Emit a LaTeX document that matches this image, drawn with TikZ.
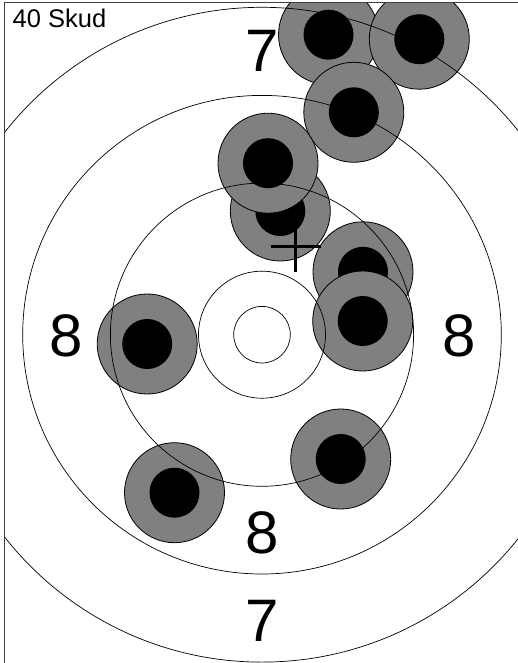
\documentclass[tikz,border=0pt]{standalone}
\usepackage{fontspec}
\setmainfont{Liberation Sans}
\definecolor{shotgray}{HTML}{808080}
\begin{document}
\begin{tikzpicture}[x=1pt,y=-1pt,
  shotouter/.style={circle,draw=black,line width=0.8pt,fill=shotgray,minimum size=100pt,inner sep=0pt},
  shotinner/.style={circle,fill=black,minimum size=50pt,inner sep=0pt},
  ring/.style={draw=black,line width=0.7pt},
  scorelabel/.style={anchor=base,inner sep=0pt,font=\fontsize{60}{60}\selectfont},
  titlelabel/.style={anchor=base west,inner sep=0pt,font=\fontsize{25.5}{25.5}\selectfont},
  frameline/.style={draw=black!75,line width=1pt},
  aimcross/.style={draw=black,line width=2.4pt}]
\useasboundingbox (0,0) rectangle (518,663);
\fill[white] (0,0) rectangle (518,663);
\coordinate (c) at (262,334.7);
\begin{scope}
\clip (4.5,3) rectangle (518,663);
% shots
\foreach \n/\px/\py in {1/328.5/34.7, 2/419.3/39.2, 3/353.8/112.3, 5/280.3/211, 4/268/163.2,
  6/363/271.8, 7/362.7/321, 8/147.2/344, 9/340.7/459, 10/174.5/492.7}{
  \node[shotouter] (s\n) at (\px,\py) {};
  \node[shotinner] (s\n c) at (s\n) {};
}
% rings
\draw[ring] (c) circle[radius=28.3pt];
\draw[ring] (c) circle[radius=63.5pt];
\draw[ring] (c) circle[radius=151.6pt];
\draw[ring] (c) circle[radius=239.3pt];
\draw[ring] (c) circle[radius=327.4pt];
\end{scope}
% labels
\node[scorelabel] (l7t) at (262,72) {7};
\node[scorelabel] (l8l) at (66,356.8) {8};
\node[scorelabel] (l8r) at (459,356.8) {8};
\node[scorelabel] (l8b) at (262,553) {8};
\node[scorelabel] (l7b) at (262,641) {7};
\node[titlelabel] (title) at (12.5,27.3) {40 Skud};
% aim cross
\coordinate (xc) at (295.5,246.5);
\draw[aimcross] ([xshift=-25pt]xc) -- ([xshift=25pt]xc);
\draw[aimcross] ([yshift=25pt]xc) -- ([yshift=-25pt]xc);
% frame
\draw[frameline] (4,2.8) -- (518,2.8);
\draw[frameline,line width=1.5pt] (4.3,2.8) -- (4.3,663);
\end{tikzpicture}
\end{document}
